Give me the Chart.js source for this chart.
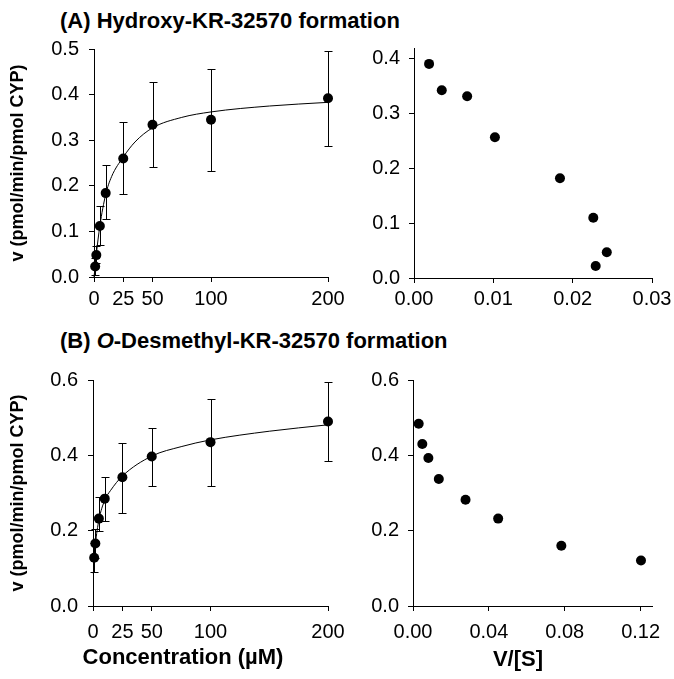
<!DOCTYPE html>
<html>
<head>
<meta charset="utf-8">
<script src="https://cdn.jsdelivr.net/npm/chart.js@4.4.1/dist/chart.umd.min.js"></script>
<style>
  body { margin: 0; background: #fff; }
  #page { position: relative; width: 674px; height: 679px; font-family: "Liberation Sans", Arial, sans-serif; color: #000; }
  #page canvas { position: absolute; left: 0; top: 0; }
  .panel-title { position: absolute; left: 60px; font-size: 22px; font-weight: bold; white-space: nowrap; line-height: 1; }
  .axis-title { position: absolute; font-size: 22px; font-weight: bold; white-space: nowrap; line-height: 1; transform: translateX(-50%); }
</style>
</head>
<body>
<div id="page">
  <div class="panel-title" style="top: 10px;">(A) Hydroxy-KR-32570 formation</div>
  <div class="panel-title" style="top: 330px;">(B) <i>O</i>-Desmethyl-KR-32570 formation</div>
  <canvas id="chart-a-rate" width="674" height="679"></canvas>
  <canvas id="chart-a-eh" width="674" height="679"></canvas>
  <canvas id="chart-b-rate" width="674" height="679"></canvas>
  <canvas id="chart-b-eh" width="674" height="679"></canvas>
  <div class="axis-title" style="left: 183px; top: 646px;">Concentration (&micro;M)</div>
  <div class="axis-title" style="left: 518px; top: 648px;">V/[S]</div>
</div>
<script>
// substrate concentrations (uM)
const concentrations = [1, 2, 5, 10, 25, 50, 100, 200];
const concTicks = [0, 25, 50, 100, 200];

// (A) hydroxy-KR-32570
const hydroxyRate = [0.023, 0.048, 0.112, 0.184, 0.260, 0.334, 0.345, 0.392];
const hydroxyLow = [0.005, 0.030, 0.070, 0.127, 0.181, 0.242, 0.232, 0.287];
const hydroxyHigh = [0.041, 0.068, 0.156, 0.246, 0.339, 0.428, 0.456, 0.496];
const hydroxyFitConc = [0, 0.5, 1, 2, 5, 10, 15, 25, 35, 50, 75, 100, 150, 200];
const hydroxyFitRate = [0.0, 0.012, 0.024, 0.050, 0.112, 0.181, 0.220, 0.263, 0.296, 0.327, 0.350, 0.362, 0.375, 0.383];
const hydroxyEhX = [0.0019, 0.0035, 0.0067, 0.0102, 0.0184, 0.0226, 0.0229, 0.0243];
const hydroxyEhY = [0.391, 0.343, 0.332, 0.257, 0.182, 0.110, 0.022, 0.047];
const hydroxyRateTicks = [0, 0.1, 0.2, 0.3, 0.4, 0.5];
const hydroxyEhYTicks = [0, 0.1, 0.2, 0.3, 0.4];
const hydroxyEhXTicks = [0, 0.01, 0.02, 0.03];

// (B) O-desmethyl-KR-32570
const desmethylRate = [0.128, 0.166, 0.232, 0.285, 0.342, 0.397, 0.435, 0.490];
const desmethylLow = [0.090, 0.128, 0.200, 0.226, 0.248, 0.319, 0.319, 0.386];
const desmethylHigh = [0.168, 0.205, 0.290, 0.343, 0.434, 0.473, 0.550, 0.594];
const desmethylFitConc = [0.3, 1, 2, 5, 10, 15, 25, 50, 75, 100, 150, 200];
const desmethylFitRate = [0.085, 0.125, 0.163, 0.228, 0.281, 0.307, 0.345, 0.398, 0.423, 0.441, 0.464, 0.481];
const desmethylEhX = [0.0030, 0.0049, 0.0081, 0.0136, 0.0277, 0.0449, 0.0782, 0.1202];
const desmethylEhY = [0.484, 0.430, 0.393, 0.337, 0.282, 0.232, 0.160, 0.121];
const desmethylRateTicks = [0, 0.2, 0.4, 0.6];
const desmethylEhXTicks = [0, 0.04, 0.08, 0.12];

const FONT = '"Liberation Sans", Arial, sans-serif';
const PAGE_W = 674;
const PAGE_H = 679;

function toPoints(xs, ys) {
  return xs.map((x, i) => ({ x, y: ys[i] }));
}

function errorBars(xs, low, high) {
  return {
    id: "errorBars",
    beforeDatasetsDraw(chart) {
      const { ctx, scales } = chart;
      ctx.save();
      ctx.strokeStyle = "#000";
      ctx.lineWidth = 1;
      xs.forEach((xv, i) => {
        const px = Math.round(scales.x.getPixelForValue(xv)) + 0.5;
        const top = Math.round(scales.y.getPixelForValue(high[i])) + 0.5;
        const bottom = Math.round(scales.y.getPixelForValue(low[i])) + 0.5;
        ctx.beginPath();
        ctx.moveTo(px, top);
        ctx.lineTo(px, bottom);
        ctx.moveTo(px - 4, top);
        ctx.lineTo(px + 4, top);
        ctx.moveTo(px - 4, bottom);
        ctx.lineTo(px + 4, bottom);
        ctx.stroke();
      });
      ctx.restore();
    },
  };
}

function axis(min, max, ticks, decimals, size, title) {
  const horizontal = size.kind === "x";
  return {
    type: "linear",
    min,
    max,
    clip: false,
    afterBuildTicks: (scale) => {
      scale.ticks = ticks.map((value) => ({ value }));
    },
    afterFit: (scale) => {
      if (horizontal) {
        scale.height = size.px;
        scale.paddingLeft = 0;
        scale.paddingRight = 0;
      } else {
        scale.width = size.px;
        scale.paddingTop = 0;
        scale.paddingBottom = 0;
      }
    },
    grid: { drawOnChartArea: false, drawTicks: true, tickLength: 5, color: "#000", lineWidth: 1 },
    border: { display: true, color: "#000", width: 1 },
    ticks: {
      color: "#000",
      padding: size.pad,
      maxRotation: 0,
      autoSkip: false,
      font: { family: FONT, size: 20 },
      callback: (v) => Number(v).toFixed(decimals),
    },
    title: title
      ? { display: true, text: title.text, color: "#000", padding: title.pad, font: { family: FONT, size: title.size, weight: "bold" } }
      : { display: false },
  };
}

function makePanel(canvasId, box, datasets, scales, plugins) {
  const padding = {
    left: box.left - box.yw,
    right: PAGE_W - box.right,
    top: box.top,
    bottom: PAGE_H - box.bottom - box.xh,
  };
  return new Chart(document.getElementById(canvasId), {
    type: "scatter",
    data: { datasets },
    options: {
      responsive: false,
      animation: false,
      layout: { padding },
      plugins: { legend: { display: false }, tooltip: { enabled: false } },
      scales,
    },
    plugins: plugins || [],
  });
}

function dotSet(points) {
  return {
    data: points,
    pointRadius: 5,
    pointBackgroundColor: "#000",
    pointBorderWidth: 0,
    showLine: false,
    clip: false,
  };
}

function fitSet(points) {
  return {
    data: points,
    showLine: true,
    pointRadius: 0,
    borderColor: "#000",
    borderWidth: 1,
    cubicInterpolationMode: "monotone",
    clip: false,
  };
}

const yTitle = { text: "v (pmol/min/pmol CYP)", size: 18, pad: { top: 7, bottom: 0 } };

makePanel(
  "chart-a-rate",
  { left: 94, right: 328, top: 49, bottom: 277, yw: 94, xh: 40 },
  [dotSet(toPoints(concentrations, hydroxyRate)), fitSet(toPoints(hydroxyFitConc, hydroxyFitRate))],
  {
    x: axis(0, 200, concTicks, 0, { kind: "x", px: 40, pad: 5 }),
    y: axis(0, 0.5, hydroxyRateTicks, 1, { kind: "y", px: 94, pad: 10 }, yTitle),
  },
  [errorBars(concentrations, hydroxyLow, hydroxyHigh)]
);

makePanel(
  "chart-a-eh",
  { left: 414, right: 652, top: 48, bottom: 278, yw: 60, xh: 40 },
  [dotSet(toPoints(hydroxyEhX, hydroxyEhY))],
  {
    x: axis(0, 0.03, hydroxyEhXTicks, 2, { kind: "x", px: 40, pad: 4 }),
    y: axis(0, 0.42, hydroxyEhYTicks, 1, { kind: "y", px: 60, pad: 9 }),
  }
);

makePanel(
  "chart-b-rate",
  { left: 93, right: 328, top: 380, bottom: 606, yw: 93, xh: 40 },
  [dotSet(toPoints(concentrations, desmethylRate)), fitSet(toPoints(desmethylFitConc, desmethylFitRate))],
  {
    x: axis(0, 200, concTicks, 0, { kind: "x", px: 40, pad: 9 }),
    y: axis(0, 0.6, desmethylRateTicks, 1, { kind: "y", px: 93, pad: 10 }, yTitle),
  },
  [errorBars(concentrations, desmethylLow, desmethylHigh)]
);

makePanel(
  "chart-b-eh",
  { left: 413, right: 652, top: 380, bottom: 606, yw: 60, xh: 40 },
  [dotSet(toPoints(desmethylEhX, desmethylEhY))],
  {
    x: axis(0, 0.126, desmethylEhXTicks, 2, { kind: "x", px: 40, pad: 9 }),
    y: axis(0, 0.6, desmethylRateTicks, 1, { kind: "y", px: 60, pad: 9 }),
  }
);
</script>
</body>
</html>
